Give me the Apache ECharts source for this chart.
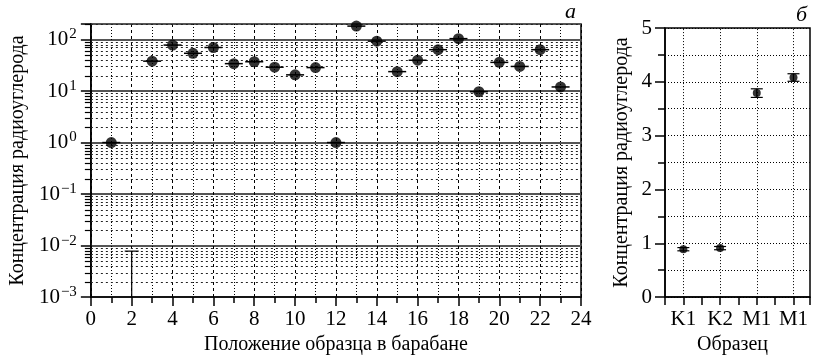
<!DOCTYPE html>
<html>
<head>
<meta charset="utf-8">
<script src="https://cdn.jsdelivr.net/npm/echarts@6/dist/echarts.min.js"></script>
<style>
  html, body { margin: 0; padding: 0; background: #fff; }
  #chart { width: 813px; height: 360px; }
</style>
</head>
<body>
<div id="chart"></div>
<script>
// panel a: concentration vs. position in the drum (log scale)
const positions = [1, 3, 4, 5, 6, 7, 8, 9, 10, 11, 12, 13, 14, 15, 16, 17, 18, 19, 20, 21, 22, 23];
const concentrations = [1.0, 38, 78, 54, 70, 34, 37, 29, 20.6, 28.5, 1.0, 182, 93, 23.8, 39.6, 63.5, 104, 9.7, 36, 30, 63.5, 12];
// position 2: only an upper limit is shown
const limitPosition = 2;
const limitValue = 0.0078;
const decades = [-3, -2, -1, 0, 1];

// panel б: samples
const samples = ['K1', 'K2', 'M1', 'M1'];
const sampleValues = [0.89, 0.91, 3.79, 4.08];
const sampleErrors = [0.03, 0.03, 0.08, 0.07];

const FONT = 'Liberation Serif';
const TICK_SIZE = 21;
const NAME_SIZE = 20;

// minor log grid values 2..9 x 10^k
const minorVals = [];
decades.forEach((k) => {
  for (let m = 2; m <= 9; m++) {
    minorVals.push([0, m * Math.pow(10, k)]);
  }
});
minorVals.push([0, 200]);

const supText = (k) => (k < 0 ? '−' + (-k) : String(k));

const chart = echarts.init(document.getElementById('chart'), null, { renderer: 'canvas' });

const option = {
  animation: false,
  backgroundColor: '#fff',
  textStyle: { fontFamily: FONT, color: '#000' },
  grid: [
    { left: 89, top: 24, width: 492, height: 274, show: true, borderColor: '#000', borderWidth: 1.5, backgroundColor: 'transparent' },
    { left: 665, top: 28, width: 150, height: 270, show: true, borderColor: '#000', borderWidth: 1.5, backgroundColor: 'transparent' }
  ],
  graphic: [
    { type: 'text', left: 565, top: 1, style: { text: 'а', font: 'italic 22px "Liberation Serif"', fill: '#000' } },
    { type: 'text', left: 796, top: 4, style: { text: 'б', font: 'italic 22px "Liberation Serif"', fill: '#000' } }
  ],
  xAxis: [
    {
      gridIndex: 0,
      type: 'value',
      min: 0,
      max: 24,
      interval: 2,
      name: 'Положение образца в барабане',
      nameLocation: 'middle',
      nameGap: 37,
      nameTextStyle: { fontFamily: FONT, fontSize: NAME_SIZE, color: '#000' },
      axisLine: { show: true, onZero: false, lineStyle: { color: '#000', width: 1.5 } },
      axisTick: { show: true, inside: false, length: 9, lineStyle: { color: '#000', width: 1.5 } },
      minorTick: { show: true, splitNumber: 2, length: 6, lineStyle: { color: '#000', width: 1.5 } },
      axisLabel: { fontFamily: FONT, fontSize: TICK_SIZE, color: '#000', margin: 12 },
      splitLine: { show: true, lineStyle: { color: '#000', width: 1, type: [3, 3] } },
      minorSplitLine: { show: true, lineStyle: { color: '#000', width: 1, type: [1, 2] } }
    },
    {
      gridIndex: 1,
      type: 'value',
      min: 0.5,
      max: 4.45,
      interval: 0.5,
      name: 'Образец',
      nameLocation: 'middle',
      nameGap: 37,
      nameTextStyle: { fontFamily: FONT, fontSize: NAME_SIZE, color: '#000', padding: [0, 10, 0, 0] },
      axisLine: { show: true, onZero: false, lineStyle: { color: '#000', width: 1.5 } },
      axisTick: { show: true, length: 8, lineStyle: { color: '#000', width: 1.5 } },
      axisLabel: {
        fontFamily: FONT, fontSize: TICK_SIZE, color: '#000', margin: 12,
        formatter: (v) => (Number.isInteger(v) && v >= 1 && v <= samples.length ? samples[v - 1] : '')
      },
      splitLine: { show: false }
    }
  ],
  yAxis: [
    {
      gridIndex: 0,
      type: 'log',
      logBase: 10,
      min: 0.001,
      max: 200,
      name: 'Концентрация радиоуглерода',
      nameLocation: 'middle',
      nameGap: 60,
      nameTextStyle: { fontFamily: FONT, fontSize: NAME_SIZE, color: '#000' },
      axisLine: { show: true, onZero: false, lineStyle: { color: '#000', width: 1.5 } },
      axisTick: { show: true, length: 10, lineStyle: { color: '#000', width: 1.5 } },
      axisLabel: {
        margin: 14,
        formatter: (v) => {
          const k = Math.round(Math.log10(v));
          if (Math.abs(Math.pow(10, k) - v) > v * 1e-6) return '';
          return '{b|10}{s|' + supText(k) + '}';
        },
        fontFamily: FONT, fontSize: TICK_SIZE, color: '#000',
        rich: {
          b: { fontFamily: FONT, fontSize: TICK_SIZE, color: '#000' },
          s: { fontFamily: FONT, fontSize: 15, color: '#000', verticalAlign: 'top', padding: [0, 0, 10, 1] }
        }
      },
      splitLine: { show: true, lineStyle: { color: '#555', width: 2, type: 'solid' } }
    },
    {
      gridIndex: 1,
      type: 'value',
      min: 0,
      max: 5,
      interval: 1,
      name: 'Концентрация радиоуглерода',
      nameLocation: 'middle',
      nameGap: 33,
      nameTextStyle: { fontFamily: FONT, fontSize: NAME_SIZE, color: '#000' },
      axisLine: { show: true, onZero: false, lineStyle: { color: '#000', width: 1.5 } },
      axisTick: { show: true, length: 10, lineStyle: { color: '#000', width: 1.5 } },
      minorTick: { show: true, splitNumber: 2, length: 7, lineStyle: { color: '#000', width: 1.5 } },
      axisLabel: { fontFamily: FONT, fontSize: TICK_SIZE, color: '#000', margin: 13 },
      splitLine: { show: true, lineStyle: { color: '#000', width: 1, type: [1, 2] } },
      minorSplitLine: { show: true, lineStyle: { color: '#000', width: 1, type: [1, 2] } }
    }
  ],
  series: [
    {
      // minor log grid + minor ticks on the left axis
      type: 'custom',
      xAxisIndex: 0,
      yAxisIndex: 0,
      silent: true,
      z: 1,
      data: minorVals,
      renderItem: (params, api) => {
        const p0 = api.coord([0, api.value(1)]);
        const p1 = api.coord([24, api.value(1)]);
        const y = Math.round(p0[1]) + 0.5;
        return {
          type: 'group',
          children: [
            { type: 'line', shape: { x1: p0[0], y1: y, x2: p1[0], y2: y }, style: { stroke: '#222', lineWidth: 1, lineDash: [2, 3] } },
            { type: 'line', shape: { x1: p0[0] - 6, y1: y, x2: p0[0], y2: y }, style: { stroke: '#000', lineWidth: 1.2 } }
          ]
        };
      }
    },
    {
      // horizontal error bars through each point
      type: 'custom',
      xAxisIndex: 0,
      yAxisIndex: 0,
      silent: true,
      z: 3,
      data: positions.map((x, i) => [x, concentrations[i]]),
      renderItem: (params, api) => {
        const p = api.coord([api.value(0), api.value(1)]);
        return { type: 'line', shape: { x1: p[0] - 9, y1: p[1], x2: p[0] + 9, y2: p[1] }, style: { stroke: '#000', lineWidth: 1.5 } };
      }
    },
    {
      // upper limit for position 2
      type: 'custom',
      xAxisIndex: 0,
      yAxisIndex: 0,
      silent: true,
      z: 3,
      data: [[limitPosition, limitValue]],
      renderItem: (params, api) => {
        const top = api.coord([api.value(0), api.value(1)]);
        const bot = api.coord([api.value(0), 0.001]);
        return {
          type: 'group',
          children: [
            { type: 'line', shape: { x1: top[0], y1: top[1], x2: bot[0], y2: bot[1] }, style: { stroke: '#000', lineWidth: 1.2 } },
            { type: 'line', shape: { x1: top[0] - 7, y1: top[1], x2: top[0] + 7, y2: top[1] }, style: { stroke: '#000', lineWidth: 1.2 } }
          ]
        };
      }
    },
    {
      type: 'scatter',
      xAxisIndex: 0,
      yAxisIndex: 0,
      z: 4,
      symbol: 'circle',
      symbolSize: 11,
      itemStyle: { color: '#000' },
      data: positions.map((x, i) => [x, concentrations[i]])
    },
    {
      // error bars for panel б
      type: 'custom',
      xAxisIndex: 1,
      yAxisIndex: 1,
      silent: true,
      z: 3,
      data: samples.map((s, i) => [i + 1, sampleValues[i], sampleErrors[i]]),
      renderItem: (params, api) => {
        const x = api.value(0);
        const v = api.value(1);
        const e = api.value(2);
        const top = api.coord([x, v + e]);
        const bot = api.coord([x, v - e]);
        return {
          type: 'group',
          children: [
            { type: 'line', shape: { x1: top[0], y1: top[1], x2: bot[0], y2: bot[1] }, style: { stroke: '#000', lineWidth: 1.2 } },
            { type: 'line', shape: { x1: top[0] - 6, y1: top[1], x2: top[0] + 6, y2: top[1] }, style: { stroke: '#000', lineWidth: 1.2 } },
            { type: 'line', shape: { x1: bot[0] - 6, y1: bot[1], x2: bot[0] + 6, y2: bot[1] }, style: { stroke: '#000', lineWidth: 1.2 } }
          ]
        };
      }
    },
    {
      type: 'scatter',
      xAxisIndex: 1,
      yAxisIndex: 1,
      z: 4,
      symbol: 'circle',
      symbolSize: 8,
      itemStyle: { color: '#000' },
      data: samples.map((s, i) => [i + 1, sampleValues[i]]),
      markLine: {
        silent: true,
        symbol: 'none',
        label: { show: false },
        lineStyle: { color: '#000', width: 1, type: [1, 2] },
        data: samples.map((s, i) => ({ xAxis: i + 1 }))
      }
    }
  ]
};

chart.setOption(option);
</script>
</body>
</html>
